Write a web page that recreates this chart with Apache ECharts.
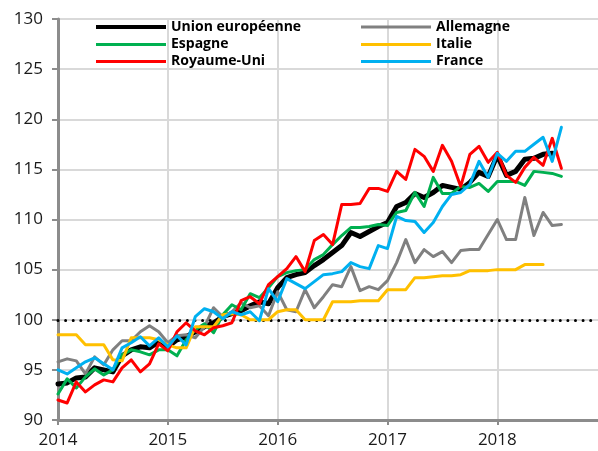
<!DOCTYPE html>
<html>
<head>
<meta charset="utf-8">
<script src="https://cdn.jsdelivr.net/npm/echarts@6/dist/echarts.min.js"></script>
<style>html,body{margin:0;padding:0;background:#fff;}#c{width:598px;height:451px;}</style>
</head>
<body>
<div id="c"></div>
<script>
// Monthly categories Jan 2014 .. Dec 2018
const months = [];
for (let y = 2014; y <= 2018; y++) for (let m = 1; m <= 12; m++) months.push(y + '-' + String(m).padStart(2, '0'));

const yTicks = [90, 95, 100, 105, 110, 115, 120, 125, 130];

const ue = [93.6,93.7,94.2,94.3,95.2,95.0,94.8,96.4,97.0,97.3,97.2,97.8,
            97.3,98.0,98.3,98.8,99.3,99.7,100.3,100.6,100.9,101.4,101.8,101.6,
            103.2,104.2,104.5,104.7,105.4,106.0,106.7,107.4,108.7,108.3,108.8,109.3,
            109.7,111.3,111.7,112.6,112.2,112.7,113.4,113.2,113.0,113.7,114.7,114.3,
            116.4,114.4,114.8,116.0,116.1,116.5,116.6];
const allemagne = [95.8,96.1,95.9,94.6,96.3,95.5,97.0,97.9,97.9,98.8,99.4,98.8,
            97.7,98.4,98.5,98.2,99.3,101.2,100.3,100.8,101.7,101.2,101.4,100.4,
            102.8,101.0,100.8,103.0,101.2,102.3,103.5,103.3,105.3,102.9,103.3,103.0,
            103.9,105.7,108.0,105.7,107.0,106.3,106.8,105.7,106.9,107.0,107.0,108.5,
            110.0,108.0,108.0,112.2,108.4,110.7,109.4,109.5];
const espagne = [92.6,94.1,93.2,94.3,95.1,94.5,95.0,96.5,97.0,96.8,96.5,97.0,
            97.0,96.4,98.0,99.0,99.6,98.7,100.5,101.5,101.0,102.6,102.2,103.2,
            104.3,104.7,104.9,105.0,106.0,106.5,107.5,108.4,109.2,109.2,109.3,109.5,
            109.4,110.7,110.9,112.7,111.3,114.2,112.6,112.6,113.3,113.2,113.6,112.8,
            113.8,113.8,113.8,113.4,114.8,114.7,114.6,114.3];
const italie = [98.5,98.5,98.5,97.5,97.5,97.5,96.0,95.9,98.2,98.2,98.2,98.0,
            97.5,97.2,97.2,99.3,99.3,99.3,100.5,100.6,100.5,100.0,100.0,100.0,
            100.8,101.0,101.0,100.0,100.0,100.0,101.8,101.8,101.8,101.9,101.9,101.9,
            103.0,103.0,103.0,104.2,104.2,104.3,104.4,104.4,104.5,104.9,104.9,104.9,
            105.0,105.0,105.0,105.5,105.5,105.5];
const royaumeUni = [92.0,91.7,93.8,92.8,93.5,94.0,93.8,95.2,96.0,94.8,95.6,97.6,
            96.9,98.8,99.7,98.9,98.5,99.2,99.4,99.7,101.9,102.3,101.6,103.5,
            104.3,105.1,106.3,104.8,107.9,108.5,107.5,111.5,111.5,111.6,113.1,113.1,
            112.8,114.8,114.0,117.0,116.3,114.8,117.4,115.8,113.3,116.5,117.3,115.7,
            116.7,114.4,113.7,115.2,116.2,115.4,118.1,115.1];
const france = [95.0,94.6,95.2,95.8,96.2,95.6,95.0,97.2,97.7,98.3,97.4,98.2,
            97.3,98.4,97.5,100.3,101.1,100.8,100.1,100.8,100.5,100.8,99.9,103.1,
            101.8,104.1,103.6,103.1,103.8,104.5,104.6,104.8,105.7,105.3,105.1,107.4,
            107.1,110.3,109.9,109.8,108.7,109.7,111.3,112.5,112.7,113.5,115.8,114.2,
            116.6,115.8,116.8,116.8,117.5,118.2,115.8,119.2];

const names = ['Union européenne','Allemagne','Espagne','Italie','Royaume-Uni','France'];
const colors = ['#000000','#808080','#00b050','#ffc000','#ff0000','#00b0f0'];
const values = [ue, allemagne, espagne, italie, royaumeUni, france];
const widths = [5, 3, 3, 3, 3, 3];

const FONT = 'Open Sans';
const isJan = (i) => i % 12 === 0;

const series = names.map((n, k) => ({
  name: n, type: 'line', data: values[k], showSymbol: false, symbol: 'none',
  color: colors[k],
  lineStyle: { color: colors[k], width: widths[k], cap: 'round', join: 'round' },
  emphasis: { disabled: true }, animation: false, z: 2 + k
}));
series[5].markLine = {
  silent: true, symbol: 'none', animation: false,
  label: { show: false },
  lineStyle: { color: '#000', width: 3, type: [0.01, 7.6], cap: 'round' },
  data: [{ yAxis: 100 }]
};

// legend positions: two columns, three rows (row-major order)
const legendLeft = [96, 361];
const legendRowCenter = [28, 45.5, 62.5];
const legends = names.map((n, k) => ({
  data: [n],
  left: legendLeft[k % 2],
  top: legendRowCenter[Math.floor(k / 2)] - 8,
  padding: 0,
  icon: 'rect',
  itemWidth: 70,
  itemHeight: k === 0 ? 4 : 3,
  selectedMode: false,
  textStyle: { fontFamily: FONT, fontWeight: 'bold', fontSize: 14, color: '#000' }
}));

const chart = echarts.init(document.getElementById('c'), null, { renderer: 'canvas' });
chart.setOption({
  animation: false,
  backgroundColor: '#fff',
  legend: legends,
  grid: { left: 58, right: -1, top: 19, bottom: 31, containLabel: false },
  xAxis: {
    type: 'category', data: months, boundaryGap: false,
    axisLine: { show: true, lineStyle: { color: '#8c8c8c', width: 3 } },
    axisTick: { show: true, interval: (i) => isJan(i), length: 5, lineStyle: { color: '#8c8c8c', width: 2 } },
    axisLabel: { interval: (i) => isJan(i), formatter: (v) => v.slice(0, 4), margin: 12,
      fontFamily: FONT, fontSize: 17, color: '#1a1a1a' },
    splitLine: { show: true, interval: (i) => isJan(i), lineStyle: { color: '#d9d9d9', width: 2 } }
  },
  yAxis: {
    type: 'value', min: yTicks[0], max: yTicks[yTicks.length - 1], interval: 5,
    axisLine: { show: true, lineStyle: { color: '#8c8c8c', width: 3 } },
    axisTick: { show: true, length: 6, lineStyle: { color: '#8c8c8c', width: 2 } },
    axisLabel: { margin: 15, fontFamily: FONT, fontSize: 17, color: '#1a1a1a' },
    splitLine: { show: true, lineStyle: { color: '#d9d9d9', width: 2 } }
  },
  series: series
});
</script>
</body>
</html>
